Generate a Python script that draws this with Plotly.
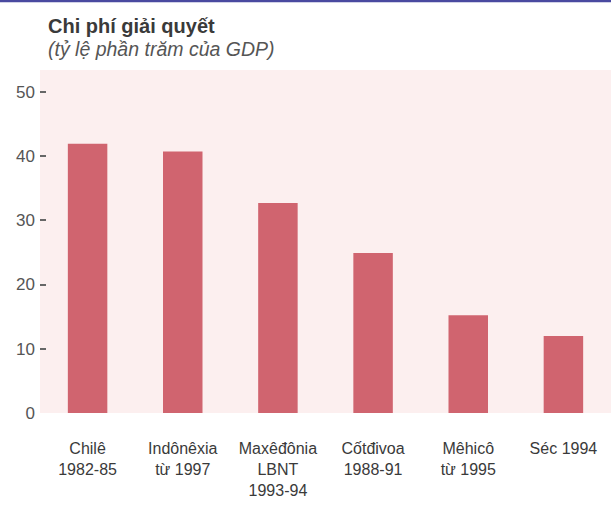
import plotly.graph_objects as go

categories = ["Chilê<br>1982-85", "Indônêxia<br>từ 1997", "Maxêđônia<br>LBNT<br>1993-94",
              "Cốtđivoa<br>1988-91", "Mêhicô<br>từ 1995", "Séc 1994"]
values = [41.9, 40.7, 32.7, 24.9, 15.2, 12.0]
ytick_vals = [0, 10, 20, 30, 40, 50]
ytick_text = ["0", "10", "20", "30", "40", "50"]

FONT = "Liberation Sans, Arial, sans-serif"

fig = go.Figure(go.Bar(
    x=categories, y=values,
    marker=dict(color="#d0646f", line=dict(width=0)),
    width=0.415,
))

fig.update_layout(
    width=611, height=506,
    margin=dict(l=40, r=0, t=70, b=93, autoexpand=False),
    paper_bgcolor="white",
    plot_bgcolor="#fcefef",
    showlegend=False,
    font=dict(family=FONT, color="#444444"),
    xaxis=dict(
        showgrid=False, zeroline=False, showline=False,
        ticks="outside", ticklen=21, tickcolor="rgba(0,0,0,0)",
        tickfont=dict(size=16, color="#3a3a3a", family=FONT),
        range=[-0.5, 5.5],
    ),
    yaxis=dict(
        range=[0, 53.4],
        tickvals=ytick_vals, ticktext=ytick_text,
        showgrid=False, zeroline=False, showline=False,
        ticks="inside", ticklen=6, tickwidth=2, tickcolor="#666666",
        ticklabelstandoff=4,
        tickfont=dict(size=17, color="#555555", family=FONT),
    ),
    shapes=[dict(type="line", xref="paper", yref="paper",
                 x0=-0.1, x1=1.05, y0=1 + 69/343, y1=1 + 69/343,
                 line=dict(color="#4a4aa0", width=2.5))],
    annotations=[
        dict(text="<b>Chi phí giải quyết</b>", xref="paper", yref="paper",
             x=6/571, y=1 + (70 - 13)/343, xanchor="left", yanchor="top",
             showarrow=False, font=dict(size=20, color="#3a3a3a", family=FONT)),
        dict(text="<i>(tỷ lệ phần trăm của GDP)</i>", xref="paper", yref="paper",
             x=6/571, y=1 + (70 - 36)/343, xanchor="left", yanchor="top",
             showarrow=False, font=dict(size=19.5, color="#555555", family=FONT)),
    ],
)

fig.write_html("out.html", config={"displayModeBar": False},
               post_script="document.body.style.margin='0';document.body.style.overflow='hidden';")
